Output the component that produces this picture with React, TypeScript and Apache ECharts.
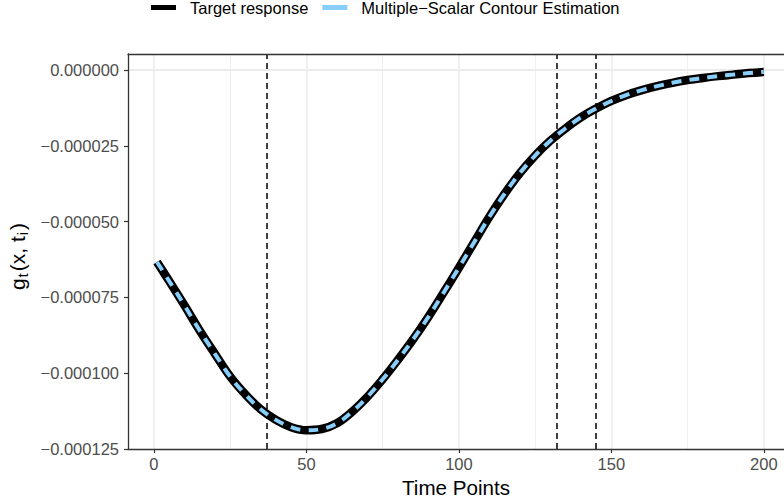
import React, { useEffect, useRef } from "react";
import * as echarts from "echarts";

// ---- data ----
const timePoints = [1, 5, 10, 15, 20, 25, 30, 35, 40, 45, 50, 55, 60, 65, 70, 75, 80, 85, 90, 95, 100, 105, 110, 115, 120, 125, 130, 135, 140, 145, 150, 155, 160, 165, 170, 175, 180, 185, 190, 195, 200];
const targetResponse = [-63.3e-6, -69.6e-6, -77.6e-6, -85.9e-6, -93.6e-6, -101.1e-6, -107.0e-6, -111.9e-6, -115.4e-6, -117.8e-6, -118.8e-6, -118.4e-6, -116.5e-6, -112.7e-6, -107.8e-6, -102.0e-6, -95.6e-6, -88.8e-6, -81.4e-6, -73.4e-6, -65.2e-6, -56.8e-6, -48.4e-6, -40.8e-6, -34.0e-6, -28.2e-6, -23.3e-6, -19.2e-6, -15.6e-6, -12.7e-6, -10.2e-6, -8.2e-6, -6.6e-6, -5.3e-6, -4.2e-6, -3.3e-6, -2.6e-6, -2.0e-6, -1.5e-6, -1.0e-6, -0.6e-6];
const estimation = [-63.3e-6, -69.6e-6, -77.6e-6, -85.9e-6, -93.6e-6, -101.1e-6, -107.0e-6, -111.9e-6, -115.4e-6, -117.8e-6, -118.8e-6, -118.4e-6, -116.5e-6, -112.7e-6, -107.8e-6, -102.0e-6, -95.6e-6, -88.8e-6, -81.4e-6, -73.4e-6, -65.2e-6, -56.8e-6, -48.4e-6, -40.8e-6, -34.0e-6, -28.2e-6, -23.3e-6, -19.2e-6, -15.6e-6, -12.7e-6, -10.2e-6, -8.2e-6, -6.6e-6, -5.3e-6, -4.2e-6, -3.3e-6, -2.6e-6, -2.0e-6, -1.5e-6, -1.0e-6, -0.6e-6];
const vLines = [37, 132, 145];
const xTicks = [0, 50, 100, 150, 200];
const xMinor = [25, 75, 125, 175];
const yTicks = [-0.000125, -0.0001, -0.000075, -0.00005, -0.000025, 0];
const yMinor = [-0.0001125, -0.0000875, -0.0000625, -0.0000375, -0.0000125];
const seriesNames = ["Target response", "Multiple\u2212Scalar Contour Estimation"];

const FONT = "'Liberation Sans', Arial, Helvetica, sans-serif";
const AXIS_COLOR = "#333333";

function fmtY(v: number): string {
  if (Math.abs(v) < 1e-12) return "0.000000";
  return v.toFixed(6).replace("-", "\u2212");
}

export default function App() {
  const ref = useRef<HTMLDivElement>(null);
  useEffect(() => {
    if (!ref.current) return;
    const chart = echarts.init(ref.current, undefined, { renderer: "svg" });
    const major = { width: 1.5, color: "#EBEBEB", type: "solid" };
    const minor = { width: 0.8, color: "#EBEBEB", type: "solid" };
    const gridLines = [
      ...xTicks.map((v) => ({ xAxis: v, lineStyle: major })),
      ...xMinor.map((v) => ({ xAxis: v, lineStyle: minor })),
      ...yTicks.map((v) => ({ yAxis: v, lineStyle: major })),
      ...yMinor.map((v) => ({ yAxis: v, lineStyle: minor })),
    ];
    chart.setOption({
      animation: false,
      backgroundColor: "#ffffff",
      textStyle: { fontFamily: FONT },
      legend: {
        top: -1,
        left: 151,
        padding: 0,
        itemWidth: 25,
        itemHeight: 5,
        itemGap: 14,
        itemStyle: { borderWidth: 0 },
        textStyle: { fontSize: 16.5, color: "#000", fontFamily: FONT, padding: [0, 0, 0, 9] },
        data: [
          { name: seriesNames[0], icon: "rect", itemStyle: { color: "#000000" } },
          { name: seriesNames[1], icon: "rect", itemStyle: { color: "#87CEFA" } },
        ],
      },
      grid: {
        left: 128,
        right: 0,
        top: 54,
        bottom: 54,
        containLabel: false,
        outerBoundsMode: "none",
      },
      xAxis: [
        {
          type: "value",
          min: -8.5,
          max: 206.6,
          z: 10,
          name: "Time Points",
          nameLocation: "middle",
          nameGap: 26,
          nameTextStyle: { fontSize: 20.6, color: "#000", fontFamily: FONT },
          axisLine: { show: true, onZero: false, lineStyle: { color: AXIS_COLOR, width: 1.3 } },
          axisTick: { show: true, length: 4, customValues: xTicks, lineStyle: { color: AXIS_COLOR, width: 1.2 } },
          axisLabel: { customValues: xTicks, fontSize: 16.5, color: "#4D4D4D", margin: 6, fontFamily: FONT },
          splitLine: { show: false },
        },
        {
          type: "value",
          position: "top",
          min: -8.5,
          max: 206.6,
          z: 10,
          axisLine: { show: true, onZero: false, lineStyle: { color: AXIS_COLOR, width: 1.3 } },
          axisTick: { show: false },
          axisLabel: { show: false },
          splitLine: { show: false },
        },
      ],
      yAxis: {
        type: "value",
        min: -0.000125,
        max: 0.0000053,
        z: 10,
        name: "{m|g}{s|t}{m|(x, t}{s|i}{e|)}",
        nameLocation: "middle",
        nameRotate: 90,
        nameGap: 94,
        nameTextStyle: {
          rich: {
            m: { fontSize: 21, color: "#000", fontFamily: FONT, lineHeight: 24 },
            s: { fontSize: 15, color: "#000", fontFamily: FONT, lineHeight: 15, verticalAlign: "bottom", padding: [0, 2, 0, 1] },
            e: { fontSize: 21, color: "#000", fontFamily: FONT, lineHeight: 24, padding: [0, 10, 0, 0] },
          },
        },
        axisLine: { show: true, onZero: false, lineStyle: { color: AXIS_COLOR, width: 1.3 } },
        axisTick: { show: true, length: 4, customValues: yTicks, lineStyle: { color: AXIS_COLOR, width: 1.2 } },
        axisLabel: { customValues: yTicks, fontSize: 16.5, color: "#4D4D4D", margin: 9, fontFamily: FONT, formatter: (v: number) => fmtY(v) },
        splitLine: { show: false },
      },
      series: [
        {
          name: seriesNames[0],
          type: "line",
          xAxisIndex: 0,
          z: 3,
          data: timePoints.map((t, i) => [t, targetResponse[i]]),
          showSymbol: false,
          smooth: 0.4,
          itemStyle: { color: "#000000" },
          lineStyle: { color: "#000000", width: 8.5 },
          markLine: {
            silent: true,
            symbol: "none",
            z: 1,
            label: { show: false },
            data: gridLines,
          },
        },
        {
          name: seriesNames[1],
          type: "line",
          xAxisIndex: 0,
          z: 4,
          data: timePoints.map((t, i) => [t, estimation[i]]),
          showSymbol: false,
          smooth: 0.4,
          itemStyle: { color: "#87CEFA" },
          lineStyle: { color: "#87CEFA", width: 4, type: [10, 8] },
          markLine: {
            silent: true,
            symbol: "none",
            z: 2,
            label: { show: false },
            lineStyle: { color: "#000000", width: 1.5, type: [6, 4] },
            data: vLines.map((v) => ({ xAxis: v })),
          },
        },
      ],
    });
    return () => chart.dispose();
  }, []);
  return <div ref={ref} style={{ position: "fixed", left: 0, top: 0, width: 784, height: 503 }} />;
}
